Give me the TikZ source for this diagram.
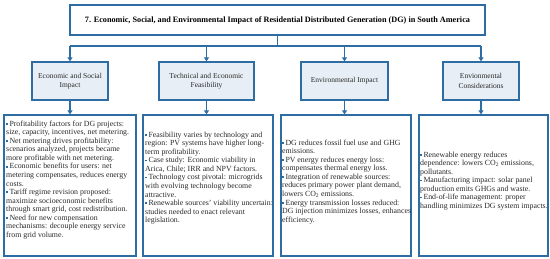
\documentclass[tikz,border=0pt]{standalone}
\usepackage{fontspec}
\setmainfont{Liberation Serif}
\usetikzlibrary{arrows.meta}
\definecolor{lineblue}{HTML}{2E6DA4}
\definecolor{boxfill}{HTML}{E7EEF5}
\definecolor{txt}{HTML}{2A2A2A}
\newcommand{\bul}{\textcolor{lineblue}{\rule[0.4ex]{1.7pt}{1.7pt}}\hspace{1.6pt}}
\begin{document}
\begin{tikzpicture}[x=1pt,y=-1pt,
  titlebox/.style={draw=lineblue,line width=1.2pt,fill=white,minimum width=415pt,minimum height=30pt,inner sep=0pt,font=\fontsize{8.2}{9}\selectfont\bfseries},
  midbox/.style={draw=lineblue,line width=1.2pt,fill=boxfill,minimum height=38pt,inner sep=0pt,align=center,text=txt,font=\fontsize{7.5}{9.2}\selectfont},
  botbox/.style={draw=lineblue,line width=1.2pt,fill=white,minimum height=141pt,inner sep=0pt},
  bodytext/.style={anchor=north west,align=left,inner sep=0pt,text=txt,font=\fontsize{7.85}{8.55}\selectfont},
  conn/.style={draw=lineblue,line width=1.2pt},
  arr/.style={conn,-{Triangle[length=4pt,width=5pt]}}]
\useasboundingbox (0,0) rectangle (550,258);
\node[titlebox] (title) at (277.5,20) {7. Economic, Social, and Environmental Impact of Residential Distributed Generation (DG) in South America};
\node[midbox,minimum width=76pt] (m1) at (70,81) {Economic and Social\\Impact};
\node[midbox,minimum width=95pt] (m2) at (206.5,81) {Technical and Economic\\Feasibility};
\node[midbox,minimum width=87pt] (m3) at (344.5,81) {Environmental Impact};
\node[midbox,minimum width=76pt] (m4) at (481,81) {Envionmental\\Considerations};
\node[botbox,minimum width=132pt] (b1) at (70,185.5) {};
\node[botbox,minimum width=130pt] (b2) at (208,185.5) {};
\node[botbox,minimum width=130pt] (b3) at (346,185.5) {};
\node[botbox,minimum width=129pt] (b4) at (483.5,185.5) {};
\coordinate (bar) at (0,46);
\draw[conn] (title.south) -- (title.south |- bar);
\draw[conn] (m1.north |- bar) -- (m4.north |- bar);
\foreach \m in {m1,m2,m3,m4}{\draw[arr] (\m.north |- bar) -- (\m.north);}
\draw[arr] (m1.south) -- (m1.south |- b1.north);
\draw[arr] (m2.south) -- (m2.south |- b2.north);
\draw[arr] (m3.south) -- (m3.south |- b3.north);
\draw[arr] (m4.south) -- (m4.south |- b4.north);
\node[bodytext] (t1) at (6,120.5) {\bul Profitability factors for DG projects:\\size, capacity, incentives, net metering.\\\bul Net metering drives profitability:\\scenarios analyzed, projects became\\more profitable with net metering.\\\bul Economic benefits for users: net\\metering compensates, reduces energy\\costs.\\\bul Tariff regime revision proposed:\\maximize socioeconomic benefits\\through smart grid, cost redistribution.\\\bul Need for new compensation\\mechanisms: decouple energy service\\from grid volume.};
\node[bodytext] (t2) at (145,131.5) {\bul Feasibility varies by technology and\\region: PV systems have higher long-\\term profitability.\\\bul Case study: Economic viability in\\Arica, Chile; IRR and NPV factors.\\\bul Technology cost pivotal: microgrids\\with evolving technology become\\attractive.\\\bul Renewable sources' viability uncertain:\\studies needed to enact relevant\\legislation.};
\node[bodytext] (t3) at (282,139.5) {\bul DG reduces fossil fuel use and GHG\\emissions.\\\bul PV energy reduces energy loss:\\compensates thermal energy loss.\\\bul Integration of renewable sources:\\reduces primary power plant demand,\\lowers CO\textsubscript{2} emissions.\\\bul Energy transmission losses reduced:\\DG injection minimizes losses, enhances\\efficiency.};
\node[bodytext] (t4) at (420,151.5) {\bul Renewable energy reduces\\dependence: lowers CO\textsubscript{2} emissions,\\pollutants.\\\bul Manufacturing impact: solar panel\\production emits GHGs and waste.\\\bul End-of-life management: proper\\handling minimizes DG system impacts.};
\end{tikzpicture}
\end{document}
